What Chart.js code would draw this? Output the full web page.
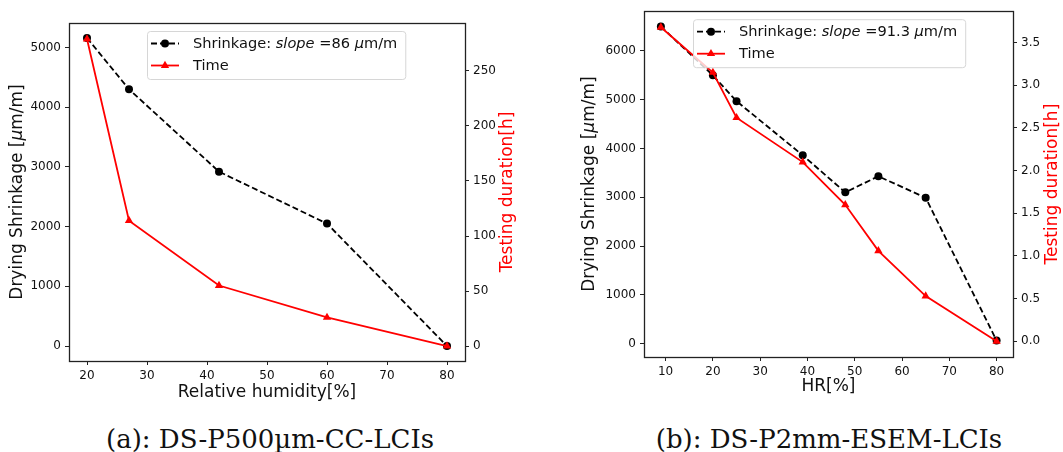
<!DOCTYPE html>
<html lang="en">
<head>
<meta charset="UTF-8">
<title>Drying shrinkage vs humidity</title>
<script src="https://cdn.jsdelivr.net/npm/chart.js@4.4.0/dist/chart.umd.min.js"></script>
<style>
    body { margin: 0; background: #fff; width: 1063px; height: 452px; position: relative; overflow: hidden; }
    canvas { position: absolute; top: 0; }
    #chartA { left: 0; }
    #chartB { left: 540px; }
    .caption { position: absolute; top: 426px; width: 440px; line-height: 27px; text-align: center;
               font-family: "DejaVu Serif", "Liberation Serif", serif; font-size: 26px; color: #111; }
</style>
</head>
<body>
<canvas id="chartA" width="540" height="410"></canvas>
<canvas id="chartB" width="523" height="410"></canvas>
<div class="caption" style="left:50px">(a): DS-P500µm-CC-LCIs</div>
<div class="caption" style="left:609px">(b): DS-P2mm-ESEM-LCIs</div>

<script>
// --- data (a)
const humidityA = [20, 27, 42, 60, 80];
const shrinkageA = [5160, 4300, 2920, 2050, 0];
const timeA = [279, 114, 55, 26, 0];
const xTicksA = [20, 30, 40, 50, 60, 70, 80];
const shrinkTicksA = [0, 1000, 2000, 3000, 4000, 5000];
const timeTicksA = [0, 50, 100, 150, 200, 250];

// --- data (b)
const humidityB = [9, 20, 25, 39, 48, 55, 65, 80];
const shrinkageB = [6500, 5500, 4970, 3860, 3100, 3430, 2990, 60];
const timeB = [3.68, 3.15, 2.62, 2.10, 1.60, 1.06, 0.53, 0.0];
const xTicksB = [10, 20, 30, 40, 50, 60, 70, 80];
const shrinkTicksB = [0, 1000, 2000, 3000, 4000, 5000, 6000];
const timeTicksB = [0, 0.5, 1, 1.5, 2, 2.5, 3, 3.5];

const FONT = '"DejaVu Sans", sans-serif';
const INK = '#222';
const TITLE_SIZE = 17;
const LEGEND_SIZE = 14.6;

function pts(xs, ys) {
    return xs.map((x, i) => ({ x: x, y: ys[i] }));
}

// draw text made of normal / italic pieces, centred on (0,0) after transform
function drawPieces(ctx, pieces, size, color, align) {
    let total = 0;
    const widths = pieces.map(p => {
        ctx.font = (p.italic ? 'italic ' : '') + size + 'px ' + FONT;
        const w = ctx.measureText(p.text).width;
        total += w;
        return w;
    });
    let x = align === 'left' ? 0 : -total / 2;
    ctx.fillStyle = color;
    ctx.textBaseline = 'middle';
    ctx.textAlign = 'left';
    pieces.forEach((p, i) => {
        ctx.font = (p.italic ? 'italic ' : '') + size + 'px ' + FONT;
        ctx.fillText(p.text, x, 0);
        x += widths[i];
    });
    return total;
}

function marker(ctx, style, x, y, r, color) {
    ctx.fillStyle = color;
    ctx.beginPath();
    if (style === 'triangle') {
        ctx.moveTo(x, y - r);
        ctx.lineTo(x + r * Math.sin(2 * Math.PI / 3), y - r * Math.cos(2 * Math.PI / 3));
        ctx.lineTo(x + r * Math.sin(4 * Math.PI / 3), y - r * Math.cos(4 * Math.PI / 3));
        ctx.closePath();
    } else {
        ctx.arc(x, y, r, 0, Math.PI * 2);
    }
    ctx.fill();
}

const mplPlugin = {
    id: 'mpl',
    afterDatasetsDraw(chart, args, o) {
        const ctx = chart.ctx;
        const a = chart.chartArea;
        ctx.save();
        // box around axes
        ctx.strokeStyle = INK;
        ctx.lineWidth = 1.3;
        ctx.strokeRect(Math.round(a.left) + 0.5, Math.round(a.top) + 0.5,
                       Math.round(a.right - a.left), Math.round(a.bottom - a.top));

        // y titles
        const cy = (a.top + a.bottom) / 2;
        ctx.save();
        ctx.translate(o.leftTitleX, cy);
        ctx.rotate(-Math.PI / 2);
        drawPieces(ctx, [{ text: 'Drying Shrinkage [' }, { text: 'µ', italic: true }, { text: 'm/m]' }], TITLE_SIZE, '#111');
        ctx.restore();
        ctx.save();
        ctx.translate(o.rightTitleX, cy);
        ctx.rotate(-Math.PI / 2);
        drawPieces(ctx, [{ text: 'Testing duration[h]' }], TITLE_SIZE, '#ff0000');
        ctx.restore();

        // legend
        const rows = [
            { pieces: o.shrinkLabel, color: '#000', dash: [6, 3], style: 'circle', r: 4 },
            { pieces: [{ text: 'Time' }], color: '#ff0000', dash: [], style: 'triangle', r: 4.8 }
        ];
        let textW = 0;
        rows.forEach(row => {
            let w = 0;
            row.pieces.forEach(p => {
                ctx.font = (p.italic ? 'italic ' : '') + LEGEND_SIZE + 'px ' + FONT;
                w += ctx.measureText(p.text).width;
            });
            textW = Math.max(textW, w);
        });
        const bx = a.left + o.legendDx, by = a.top + 8;
        const bw = 46 + textW + 8, bh = 48;
        ctx.beginPath();
        ctx.roundRect(bx + 0.5, by + 0.5, bw, bh, 3);
        ctx.fillStyle = 'rgba(255,255,255,0.8)';
        ctx.fill();
        ctx.strokeStyle = '#d6d6d6';
        ctx.lineWidth = 1;
        ctx.stroke();
        rows.forEach((row, i) => {
            const ry = by + 12.5 + i * 22;
            ctx.strokeStyle = row.color;
            ctx.lineWidth = 1.8;
            ctx.setLineDash(row.dash);
            ctx.beginPath();
            ctx.moveTo(bx + 4, ry);
            ctx.lineTo(bx + 32, ry);
            ctx.stroke();
            ctx.setLineDash([]);
            marker(ctx, row.style, bx + 18, ry, row.r, row.color);
            ctx.save();
            ctx.translate(bx + 46, ry + 0.5);
            drawPieces(ctx, row.pieces, LEGEND_SIZE, '#111', 'left');
            ctx.restore();
        });
        ctx.restore();
    }
};

function tickScale(position, min, max, list, size, fmt, extra) {
    const s = {
        type: 'linear',
        position: position,
        min: min,
        max: max,
        border: { display: false },
        grid: { drawOnChartArea: false, drawTicks: true, tickLength: 4, color: INK, lineWidth: 1 },
        ticks: {
            color: '#111',
            padding: 4,
            font: { family: FONT, size: 12 },
            callback: v => fmt ? fmt(v) : v
        },
        afterBuildTicks: scale => { scale.ticks = list.map(v => ({ value: v })); },
        afterFit: scale => {
            if (position === 'bottom') scale.height = size; else scale.width = size;
        }
    };
    return Object.assign(s, extra || {});
}

function build(id, xs, shrink, time, opt) {
    new Chart(document.getElementById(id), {
        type: 'line',
        data: {
            datasets: [{
                label: 'Time',
                data: pts(xs, time),
                yAxisID: 'y1',
                borderColor: '#ff0000',
                backgroundColor: '#ff0000',
                borderWidth: 1.8,
                pointStyle: 'triangle',
                pointRadius: 4.8,
                pointBorderWidth: 0,
                order: 0
            }, {
                label: 'Shrinkage',
                data: pts(xs, shrink),
                yAxisID: 'y',
                borderColor: '#000',
                backgroundColor: '#000',
                borderWidth: 1.8,
                borderDash: [6, 3],
                pointStyle: 'circle',
                pointRadius: 4,
                pointBorderWidth: 0,
                order: 1
            }]
        },
        options: {
            responsive: false,
            animation: false,
            devicePixelRatio: 1,
            layout: { padding: { top: opt.top, left: 0, right: 0, bottom: 0 } },
            plugins: {
                legend: { display: false },
                tooltip: { enabled: false },
                mpl: opt.mpl
            },
            scales: {
                x: tickScale('bottom', opt.xMin, opt.xMax, opt.xTicks, opt.xH, null, {
                    title: {
                        display: true, text: opt.xTitle, color: '#111',
                        font: { family: FONT, size: TITLE_SIZE }, padding: { top: 0, bottom: opt.xTitlePad }
                    }
                }),
                y: tickScale('left', opt.yMin, opt.yMax, opt.yTicks, opt.yW),
                y1: tickScale('right', opt.y1Min, opt.y1Max, opt.y1Ticks, opt.y1W, opt.y1Fmt)
            }
        },
        plugins: [mplPlugin]
    });
}

build('chartA', humidityA, shrinkageA, timeA, {
    top: 23, xH: 49, yW: 69, y1W: 75,
    xMin: 17, xMax: 83, xTicks: xTicksA, xTitle: 'Relative humidity[%]', xTitlePad: 7,
    yMin: -251, yMax: 5410, yTicks: shrinkTicksA,
    y1Min: -13.6, y1Max: 293.6, y1Ticks: timeTicksA, y1Fmt: null,
    mpl: {
        leftTitleX: 18, rightTitleX: 508, legendDx: 78,
        shrinkLabel: [{ text: 'Shrinkage: ' }, { text: 'slope', italic: true }, { text: ' =86 ' },
                      { text: 'µ', italic: true }, { text: 'm/m' }]
    }
});

build('chartB', humidityB, shrinkageB, timeB, {
    top: 5, xH: 53, yW: 104, y1W: 50,
    xMin: 5.43, xMax: 83.47, xTicks: xTicksB, xTitle: 'HR[%]', xTitlePad: 13,
    yMin: -276, yMax: 6815, yTicks: shrinkTicksB,
    y1Min: -0.184, y1Max: 3.868, y1Ticks: timeTicksB, y1Fmt: v => v.toFixed(1),
    mpl: {
        leftTitleX: 50, rightTitleX: 513, legendDx: 49,
        shrinkLabel: [{ text: 'Shrinkage: ' }, { text: 'slope', italic: true }, { text: ' =91.3 ' },
                      { text: 'µ', italic: true }, { text: 'm/m' }]
    }
});
</script>
</body>
</html>
